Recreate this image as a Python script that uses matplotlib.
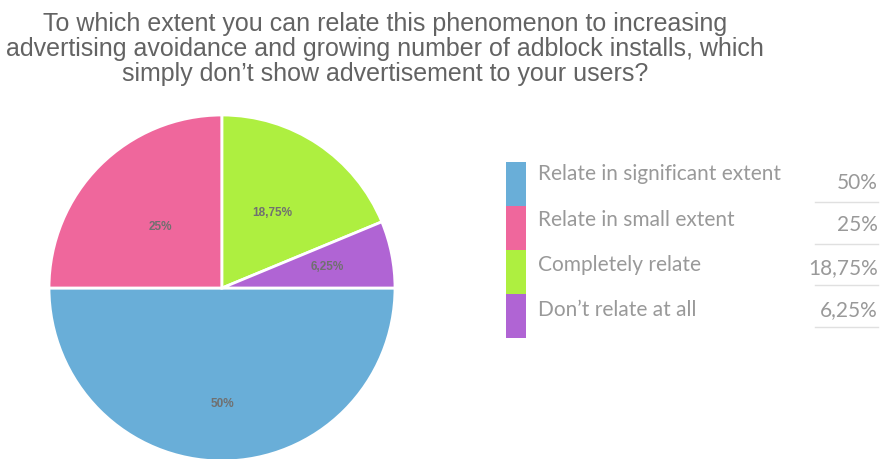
import numpy as np
import matplotlib
matplotlib.use("Agg")
from matplotlib import pyplot as plt

# data
categories = ["Relate in significant extent", "Relate in small extent",
              "Completely relate", "Don\u2019t relate at all"]
values = [50, 25, 18.75, 6.25]
value_labels = ["50%", "25%", "18,75%", "6,25%"]
colors = ["#69AED8", "#EF679C", "#AEEF40", "#B064D4"]
label_dist = [0.67, 0.5, 0.52, 0.62]

title = ("To which extent you can relate this phenomenon to increasing\n"
         "advertising avoidance and growing number of adblock installs, which\n"
         "simply don\u2019t show advertisement to your users?")

W, H = 880, 459
fig = plt.figure(figsize=(W / 100, H / 100), dpi=100)

# pie
r = 173
cx, cy = 222, 288
ax = fig.add_axes([(cx - r) / W, (H - cy - r) / H, 2 * r / W, 2 * r / H])
wedges, _ = ax.pie(values, colors=colors, startangle=0, counterclock=False,
                   radius=1, wedgeprops=dict(edgecolor="white", linewidth=2))
ax.set_xlim(-1, 1)
ax.set_ylim(-1, 1)
ax.set_aspect("equal")
ax.axis("off")
for w, lab, d in zip(wedges, value_labels, label_dist):
    ang = np.deg2rad((w.theta1 + w.theta2) / 2)
    ax.text(d * np.cos(ang), d * np.sin(ang), lab, ha="center", va="center",
            fontsize=8.5, fontweight="bold", color="#707070",
            family="Liberation Sans")

# title
fig.text(385 / W, 1 - 49 / H, title, ha="center", va="center",
         fontsize=18, color="#636363", family="Liberation Sans",
         linespacing=1.03)

# legend
lax = fig.add_axes([0, 0, 1, 1])
lax.set_xlim(0, W)
lax.set_ylim(H, 0)
lax.axis("off")
top, step = 162, 44
for i, (cat, lab, c) in enumerate(zip(categories, value_labels, colors)):
    y0 = top + i * step
    lax.add_patch(plt.Rectangle((506, y0), 20, step, color=c, lw=0))
    lax.text(538, 174 + i * 45.5, cat, ha="left", va="center", fontsize=15,
             color="#999999", family="Lato")
    lax.text(878, 183 + i * 42.3, lab, ha="right", va="center", fontsize=15,
             color="#999999", family="Lato")
    ly = 202 + i * 41.7
    lax.plot([815, 878], [ly, ly], color="#e0e0e0", lw=1)

fig.savefig("out.png", dpi=100)
